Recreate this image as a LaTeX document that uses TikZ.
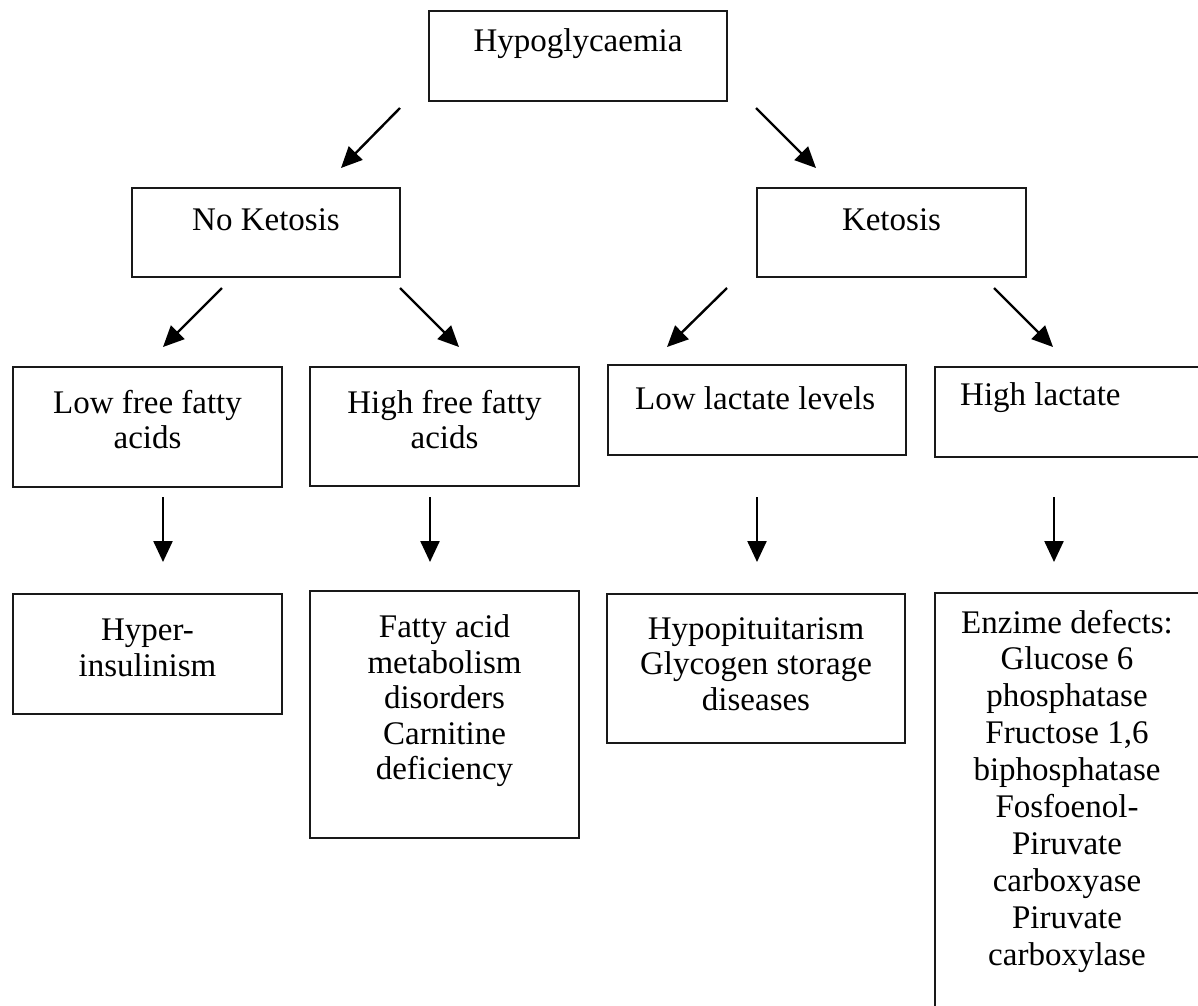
\documentclass[tikz,border=0pt]{standalone}
\usepackage{fontspec}
\setmainfont{Liberation Serif}
\usetikzlibrary{arrows.meta}
\begin{document}
\begin{tikzpicture}[x=1pt,y=-1pt,
  box/.style={draw=black!90, line width=2pt, rectangle, inner sep=0pt},
  txt/.style={font=\fontsize{33}{35.5}\selectfont, align=center, inner sep=0pt, text=black},
  arr/.style={line width=2.4pt, -{Triangle[length=21pt,width=19pt]}}]
\useasboundingbox (0,0) rectangle (1198,1005);
\clip (0,0) rectangle (1198,1005);
% boxes
\node[box, minimum width=298pt, minimum height=90pt] (hypo) at (578,56) {};
\node[box, minimum width=268pt, minimum height=89pt] (noket) at (266,232.5) {};
\node[box, minimum width=269pt, minimum height=89pt] (ket) at (891.5,232.5) {};
\node[box, minimum width=269pt, minimum height=120pt] (lowffa) at (147.5,427) {};
\node[box, minimum width=269pt, minimum height=119pt] (highffa) at (444.5,426.5) {};
\node[box, minimum width=298pt, minimum height=90pt] (lowlac) at (757,410) {};
\node[box, minimum width=285pt, minimum height=90pt] (highlac) at (1077.5,412) {};
\node[box, minimum width=269pt, minimum height=120pt] (hyper) at (147.5,654) {};
\node[box, minimum width=269pt, minimum height=247pt] (fatty) at (444.5,714.5) {};
\node[box, minimum width=298pt, minimum height=149pt] (hypopit) at (756,668.5) {};
\node[box, minimum width=285pt, minimum height=427pt] (enz) at (1077.5,806.5) {};
% texts
\node[txt] (hypoT) at (578,44) {Hypoglycaemia};
\node[txt] (noketT) at (266,220) {No Ketosis};
\node[txt] (ketT) at (891.5,220) {Ketosis};
\node[txt] (lowffaT) at (147.5,419.5) {Low free fatty\\acids};
\node[txt] (highffaT) at (444.5,419.5) {High free fatty\\acids};
\node[txt, anchor=west] (lowlacT) at (635,398) {Low lactate levels};
\node[txt, anchor=west] (highlacT) at (960,398) {High lactate};
\node[txt] (hyperT) at (147.5,648) {Hyper-\\insulinism};
\node[txt] (fattyT) at (444.5,701) {Fatty acid\\metabolism\\disorders\\Carnitine\\deficiency};
\node[txt] (hypopitT) at (756,664) {Hypopituitarism\\Glycogen storage\\diseases};
\node[txt, font=\fontsize{33}{36.9}\selectfont] (enzT) at (1067,791) {Enzime defects:\\Glucose 6\\phosphatase\\Fructose 1,6\\biphosphatase\\Fosfoenol-\\Piruvate\\carboxyase\\Piruvate\\carboxylase};
% arrow end points
\coordinate (a1s) at (400,108); \coordinate (a1e) at (341,168);
\coordinate (a2s) at (756,108); \coordinate (a2e) at (816,168);
\coordinate (b1s) at (222,288); \coordinate (b1e) at (163,347);
\coordinate (b2s) at (400,288); \coordinate (b2e) at (459,347);
\coordinate (b3s) at (727,288); \coordinate (b3e) at (667,347);
\coordinate (b4s) at (994,288); \coordinate (b4e) at (1053,347);
\coordinate (c1s) at (163,497); \coordinate (c1e) at (163,562);
\coordinate (c2s) at (430,497); \coordinate (c2e) at (430,562);
\coordinate (c3s) at (757,497); \coordinate (c3e) at (757,562);
\coordinate (c4s) at (1054,497); \coordinate (c4e) at (1054,562);
\draw[arr] (a1s) -- (a1e);
\draw[arr] (a2s) -- (a2e);
\draw[arr] (b1s) -- (b1e);
\draw[arr] (b2s) -- (b2e);
\draw[arr] (b3s) -- (b3e);
\draw[arr] (b4s) -- (b4e);
\draw[arr] (c1s) -- (c1e);
\draw[arr] (c2s) -- (c2e);
\draw[arr] (c3s) -- (c3e);
\draw[arr] (c4s) -- (c4e);
\end{tikzpicture}
\end{document}
